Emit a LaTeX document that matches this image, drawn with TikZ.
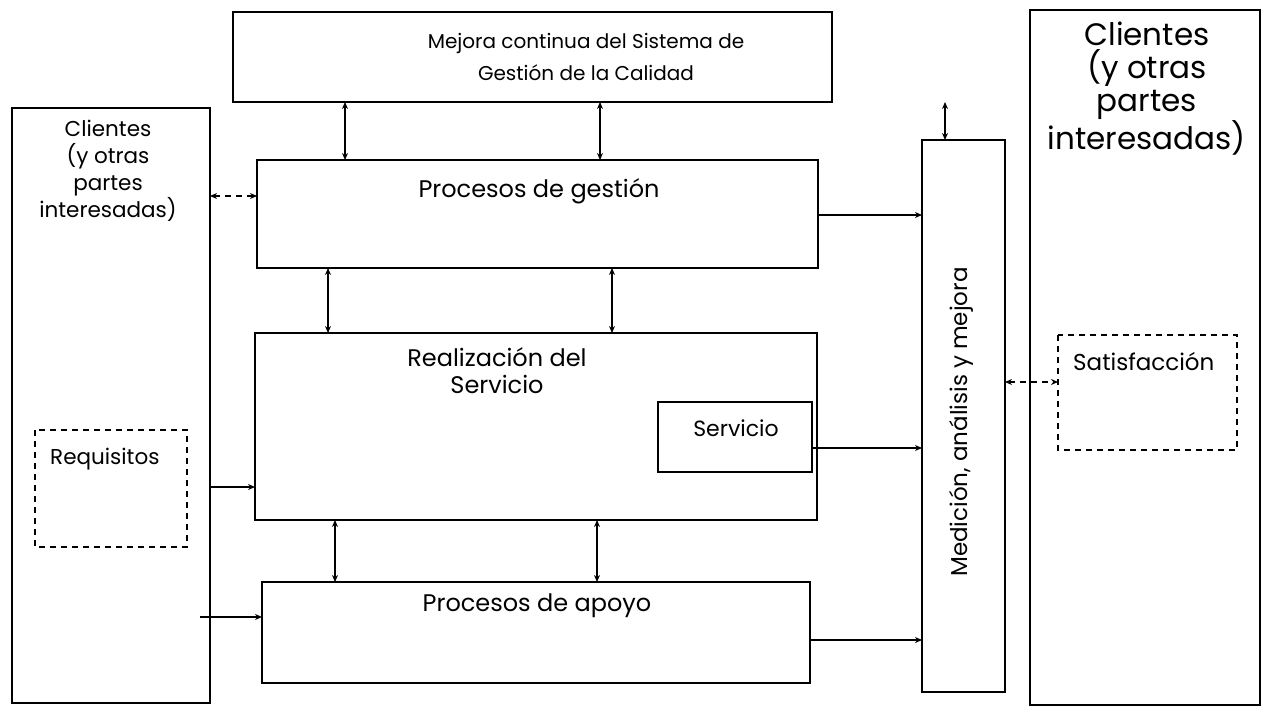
\documentclass[tikz,border=0pt]{standalone}
\usepackage{fontspec}
\setmainfont{Poppins}
\usetikzlibrary{arrows.meta}
\begin{document}
\begin{tikzpicture}[x=1pt,y=-1pt,
  box/.style={draw,line width=1.6pt},
  dbox/.style={draw,line width=1.4pt,dash pattern=on 6pt off 5pt},
  lbl/.style={inner sep=0pt,align=center,font=\fontsize{24}{29}\selectfont},
  arr/.style={line width=1.1pt,-{Stealth[length=7pt,width=6pt]}},
  darr/.style={line width=1.1pt,{Stealth[length=7pt,width=6pt]}-{Stealth[length=7pt,width=6pt]}},
  dash2/.style={line width=1.1pt,dash pattern=on 6pt off 5pt,{Stealth[length=7pt,width=6pt]}-{Stealth[length=7pt,width=6pt]}}]
\useasboundingbox (0,0) rectangle (1265,709);
% boxes
\draw[box] (233,12) rectangle (832,102);
\node[lbl,font=\fontsize{20}{32}\selectfont] (mejtxt) at (586,57) {Mejora continua del Sistema de\\Gestión de la Calidad};
\draw[box] (12,108) rectangle (210,703);
\node[lbl,font=\fontsize{21.5}{27}\selectfont] (cl) at (108,171) {Clientes\\(y otras\\partes\\interesadas)};
\draw[dbox] (35,430) rectangle (187,547);
\node[lbl,anchor=west,font=\fontsize{21.5}{26}\selectfont] (req) at (50,459) {Requisitos};
\draw[box] (257,160) rectangle (818,268);
\node[lbl] (gesttxt) at (539,191) {Procesos de gestión};
\draw[box] (255,333) rectangle (817,520);
\node[lbl,font=\fontsize{24}{27}\selectfont] (realtxt) at (497,371) {Realización del\\Servicio};
\draw[box] (658,402) rectangle (812,472);
\node[lbl,font=\fontsize{22}{26}\selectfont] (servtxt) at (736,428) {Servicio};
\draw[box] (262,582) rectangle (810,683);
\node[lbl] (apotxt) at (537,606) {Procesos de apoyo};
\draw[box] (922,140) rectangle (1005,692);
\node[lbl,rotate=90,font=\fontsize{23}{26}\selectfont] (medtxt) at (961,422) {Medición, análisis y mejora};
\draw[box] (1030,10) rectangle (1260,705);
\node[lbl,font=\fontsize{31}{33}\selectfont] (cr) at (1147,89) {Clientes\\(y otras\\partes\\interesadas)};
\draw[dbox] (1058,335) rectangle (1237,450);
\node[lbl,anchor=west,font=\fontsize{23}{26}\selectfont] (sat) at (1073,362) {Satisfacción};
% connectors
\draw[darr] (345,102) -- (345,160);
\draw[darr] (600,102) -- (600,160);
\draw[darr] (945,102) -- (945,140);
\draw[darr] (328,268) -- (328,333);
\draw[darr] (612,268) -- (612,333);
\draw[darr] (335,520) -- (335,582);
\draw[darr] (597,520) -- (597,582);
\draw[dash2] (210,196) -- (257,196);
\draw[arr] (210,487) -- (255,487);
\draw[arr] (200,617) -- (262,617);
\draw[arr] (818,215) -- (922,215);
\draw[arr] (812,448) -- (922,448);
\draw[arr] (810,640) -- (922,640);
\draw[dash2] (1005,382) -- (1058,382);
\end{tikzpicture}
\end{document}
